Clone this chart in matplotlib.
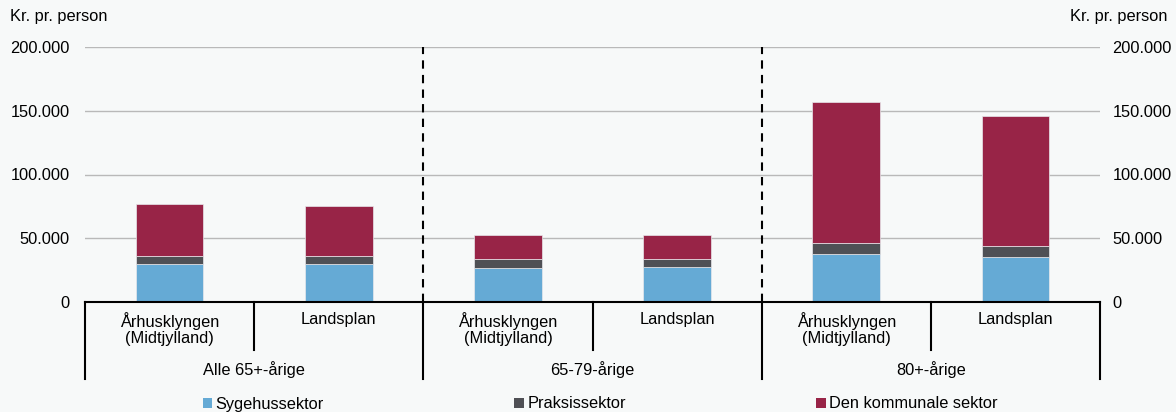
import numpy as np
import matplotlib.pyplot as plt
from matplotlib.patches import Patch

plt.rcParams['font.family'] = ['Liberation Sans', 'DejaVu Sans']
plt.rcParams['font.size'] = 11.8

#==============================================================================#
# Data (kr. pr. person)
#==============================================================================#
bar_labels = ['Århusklyngen\n(Midtjylland)', 'Landsplan'] * 3
group_labels = ['Alle 65+-årige', '65-79-årige', '80+-årige']
sygehus = [29600, 29600, 26900, 27700, 37400, 35500]
praksis = [6700, 6700, 6600, 6300, 8600, 8400]
kommunal = [40800, 38800, 19300, 18300, 110600, 101700]
series_names = ['Sygehussektor', 'Praksissektor', 'Den kommunale sektor']
colors = ['#65aad5', '#4f5055', '#982447']
bg = '#f7f9f9'

#==============================================================================#
# Figure
#==============================================================================#
fig = plt.figure(figsize=(11.76, 4.12), dpi=100, facecolor=bg)
ax = fig.add_axes([85 / 1176, 110 / 412, 1015 / 1176, 255 / 412], facecolor=bg)

x = np.arange(len(bar_labels))
bottom = np.zeros(len(x))
for vals, c in zip([sygehus, praksis, kommunal], colors):
    ax.bar(x, vals, 0.4, bottom=bottom, color=c, edgecolor='#e8e8ec',
           linewidth=0.5, zorder=3)
    bottom += np.array(vals)

ax.set_xlim(-0.5, 5.5)
ax.set_ylim(0, 200000)
yt = [0, 50000, 100000, 150000, 200000]
ylabs = [f'{v:,}'.replace(',', '.') for v in yt]
ax.set_yticks(yt)
ax.set_yticklabels(ylabs)
ax.tick_params(axis='y', length=0, pad=11)
ax.set_xticks([])
for s in ax.spines.values():
    s.set_visible(False)

# right axis labels
ax2 = ax.twinx()
ax2.set_ylim(0, 200000)
ax2.set_yticks(yt)
ax2.set_yticklabels(ylabs)
ax2.tick_params(axis='y', length=0, pad=9)
for s in ax2.spines.values():
    s.set_visible(False)

for v in yt[1:]:
    ax.axhline(v, color='#b9b9b9', lw=1, zorder=1)
ax.axhline(0, color='black', lw=1.5, zorder=4, clip_on=False)

# dashed group separators
for xv in [1.5, 3.5]:
    ax.plot([xv, xv], [0, 200000], color='black', lw=1.5, ls=(0, (4, 3)), zorder=2)

# category axis
tr = ax.get_xaxis_transform()
for xv in np.arange(-0.5, 6, 1):
    low = -0.302 if xv in (-0.5, 1.5, 3.5, 5.5) else -0.188
    ax.plot([xv, xv], [0, low], color='black', lw=1.5, transform=tr, clip_on=False)
for xi, lab in zip(x, bar_labels):
    ax.text(xi, -0.04, lab, transform=tr, ha='center', va='top', linespacing=1.05)
for gi, lab in enumerate(group_labels):
    ax.text(2 * gi + 0.5, -0.263, lab, transform=tr, ha='center', va='center')

fig.text(10 / 1176, 1 - 17 / 412, 'Kr. pr. person', ha='left', va='center')
fig.text(1168 / 1176, 1 - 17 / 412, 'Kr. pr. person', ha='right', va='center')

handles = [Patch(facecolor=c, edgecolor='none') for c in colors]
fig.legend(handles, series_names, loc='center', ncol=3,
           bbox_to_anchor=(600 / 1176, 1 - 404 / 412), frameon=False,
           handlelength=0.6, handleheight=0.6, handletextpad=0.2,
           columnspacing=11.6)

fig.savefig('out.png', dpi=100, facecolor=bg)
